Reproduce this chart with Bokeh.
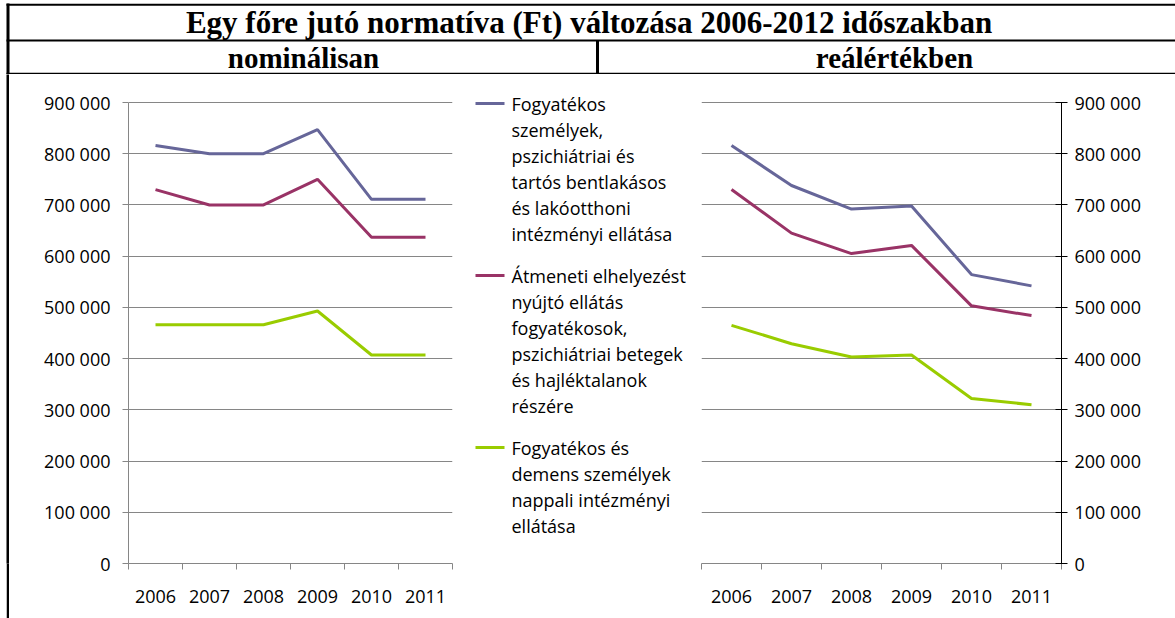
from bokeh.plotting import figure
from bokeh.layouts import row, column, Spacer
from bokeh.models import Range1d, FixedTicker
from bokeh.core.properties import value
from bokeh.embed import file_html
from bokeh.resources import INLINE
import numpy as np

# ---------------- data ----------------
title_text = "Egy főre jutó normatíva (Ft) változása 2006-2012 időszakban"
subtitle_left = "nominálisan"
subtitle_right = "reálértékben"
years = ["2006", "2007", "2008", "2009", "2010", "2011"]
legend_labels = [
    ["Fogyatékos", "személyek,", "pszichiátriai és", "tartós bentlakásos",
     "és lakóotthoni", "intézményi ellátása"],
    ["Átmeneti elhelyezést", "nyújtó ellátás", "fogyatékosok,",
     "pszichiátriai betegek", "és hajléktalanok", "részére"],
    ["Fogyatékos és", "demens személyek", "nappali intézményi", "ellátása"],
]
colors = ["#666699", "#993366", "#99CC00"]

nominal_intezmenyi = [816000, 800000, 800000, 847000, 711000, 711000]
nominal_atmeneti = [730000, 700000, 700000, 750000, 637000, 637000]
nominal_nappali = [466000, 466000, 466000, 493000, 407000, 407000]

real_intezmenyi = [816000, 738000, 692000, 698000, 564000, 542000]
real_atmeneti = [730000, 645000, 605000, 621000, 503000, 484000]
real_nappali = [465000, 429000, 403000, 407000, 322000, 310000]

y_ticks = [0, 100000, 200000, 300000, 400000, 500000, 600000, 700000, 800000, 900000]

# ---------------- layout constants (page pixels) ----------------
SANS = "Open Sans"
SERIF = "Liberation Serif"
GRID = "#868686"
TICK_FS = "18px"
ROW_TOP = 74          # top of the chart row
ROW_H = 618 - ROW_TOP
PLOT_TOP = 102        # y of the 900 000 gridline
PLOT_BOTTOM = 563     # y of the 0 gridline
BORDER_BOTTOM = ROW_TOP + ROW_H - PLOT_BOTTOM

centers = list(np.arange(len(years)) + 0.5)
bounds = list(np.arange(len(years) + 1).astype(float))
y_overrides = {v: ("{:,}".format(v).replace(",", " ")) for v in y_ticks}
x_overrides = {c: y for c, y in zip(centers, years)}
y_max = max(y_ticks)
# frame starts at ROW_TOP; extend range so that y_max lands at PLOT_TOP
y_top = y_max * (PLOT_BOTTOM - ROW_TOP) / (PLOT_BOTTOM - PLOT_TOP)


def bare(p):
    p.toolbar_location = None
    p.outline_line_color = None
    p.background_fill_color = "white"
    p.border_fill_color = "white"
    p.axis.visible = False
    p.grid.visible = False
    return p


# ---------------- header ----------------
hdr = bare(figure(width=1175, height=ROW_TOP, x_range=Range1d(0, 1175), y_range=Range1d(ROW_TOP, 0),
                  output_backend="svg", toolbar_location=None,
                  min_border=0, min_border_left=0, min_border_right=0,
                  min_border_top=0, min_border_bottom=0))
hdr.segment(x0=[6, 6, 6], y0=[4.3, 40, 73.3], x1=[1175, 1175, 1175], y1=[4.3, 40, 73.3],
            line_color="black", line_width=2)
hdr.segment(x0=[7.5, 597], y0=[3, 40], x1=[7.5, 597], y1=[ROW_TOP, 74],
            line_color="black", line_width=3)
hdr.text(x=[588.5], y=[21.5], text=[title_text], text_align="center", text_baseline="middle",
         text_font=value(SERIF), text_font_style="bold", text_font_size="31px",
         text_color="black")
hdr.text(x=[303, 894], y=[57.5, 57.5], text=[subtitle_left, subtitle_right],
         text_align="center", text_baseline="middle",
         text_font=value(SERIF), text_font_style="bold", text_font_size="29px",
         text_color="black")

# ---------------- left border strip ----------------
strip = figure(width=3, height=ROW_H, output_backend="svg", toolbar_location=None,
               min_border=0, min_border_left=0, min_border_right=0,
               min_border_top=0, min_border_bottom=BORDER_BOTTOM,
               x_range=Range1d(0, 1), y_range=Range1d(0, 1))
strip.axis.visible = False
strip.grid.visible = False
strip.outline_line_color = None
strip.background_fill_color = "black"
strip.border_fill_color = "black"


def chart(width, bl, br, right_axis):
    p = figure(width=width, height=ROW_H, x_range=Range1d(0, len(years)),
               y_range=Range1d(0, y_top), output_backend="svg", toolbar_location=None,
               min_border_left=bl, min_border_right=br, min_border_top=0,
               min_border_bottom=BORDER_BOTTOM, y_axis_location="right" if right_axis else "left")
    p.outline_line_color = None
    p.background_fill_color = "white"
    p.border_fill_color = "white"
    p.xgrid.visible = False
    p.ygrid.ticker = FixedTicker(ticks=y_ticks)
    p.ygrid.grid_line_color = GRID
    p.ygrid.grid_line_width = 1

    xa = p.xaxis[0]
    xa.ticker = FixedTicker(ticks=centers, minor_ticks=bounds)
    xa.major_label_overrides = x_overrides
    xa.major_tick_line_color = None
    xa.major_tick_out = 6
    xa.major_tick_in = 0
    xa.minor_tick_line_color = GRID
    xa.minor_tick_out = 6
    xa.minor_tick_in = 0
    xa.axis_line_color = GRID
    xa.major_label_standoff = 20
    xa.major_label_text_font = SANS
    xa.major_label_text_font_size = TICK_FS
    xa.major_label_text_color = "black"

    ya = p.yaxis[0]
    ya.ticker = FixedTicker(ticks=y_ticks)
    ya.bounds = (0, y_max)
    ya.major_label_overrides = y_overrides
    ya.minor_tick_line_color = None
    ya.major_label_text_font = SANS
    ya.major_label_text_font_size = TICK_FS
    ya.major_label_text_color = "black"
    if right_axis:
        ya.axis_line_color = "black"
        ya.major_tick_line_color = "black"
        ya.major_tick_in = 6
        ya.major_tick_out = 6
        ya.major_label_standoff = 7
    else:
        ya.axis_line_color = GRID
        ya.major_tick_line_color = GRID
        ya.major_tick_in = 0
        ya.major_tick_out = 6
        ya.major_label_standoff = 12
    return p


left = chart(451, 119, 8, False)
for vals, c in zip([nominal_intezmenyi, nominal_atmeneti, nominal_nappali], colors):
    left.line(x=centers, y=vals, line_color=c, line_width=3)

right = chart(485, 11, 114, True)
for vals, c in zip([real_intezmenyi, real_atmeneti, real_nappali], colors):
    right.line(x=centers, y=vals, line_color=c, line_width=3)

# ---------------- legend ----------------
leg = bare(figure(width=230, height=ROW_H, x_range=Range1d(460, 690),
                  y_range=Range1d(PLOT_BOTTOM, ROW_TOP),
                  output_backend="svg", toolbar_location=None,
                  min_border=0, min_border_left=0, min_border_right=0,
                  min_border_top=0, min_border_bottom=BORDER_BOTTOM))
item_top = [103, 275, 447]
LINE_H = 26
for lines, c, y0 in zip(legend_labels, colors, item_top):
    leg.segment(x0=[475], y0=[y0], x1=[504], y1=[y0], line_color=c, line_width=3)
    ys = [y0 + i * LINE_H for i in range(len(lines))]
    leg.text(x=[511] * len(lines), y=ys, text=lines, text_align="left",
             text_baseline="middle", text_font=value(SANS), text_font_size="18px",
             text_color="black")

layout = column(hdr, row(Spacer(width=6, height=ROW_H), strip, left, leg, right, spacing=0),
                spacing=0)

with open("out.html", "w") as f:
    f.write(file_html(layout, INLINE))
